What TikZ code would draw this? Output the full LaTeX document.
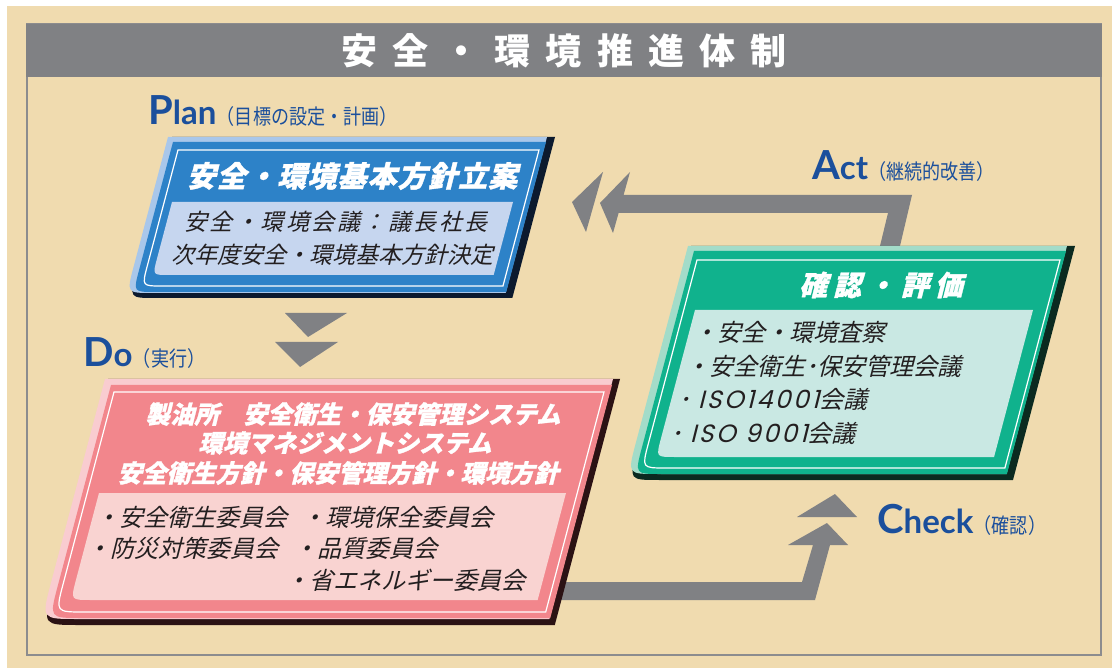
\documentclass[tikz,border=0pt]{standalone}
\usepackage{fontspec}
\setmainfont{Lato}
\newfontfamily\jpfont{Noto Sans CJK JP}
\newfontfamily\jpslant{Noto Sans CJK JP}[FakeSlant=0.25]
\newfontfamily\jpheavy{Noto Sans CJK JP}[FakeSlant=0.25, FakeBold=1.2]
\newfontfamily\isofont{Poppins}[FakeSlant=0.25, LetterSpace=10]
\usepackage{tikz}
\definecolor{parch}{HTML}{F0DBAF}
\definecolor{bargrey}{HTML}{808184}
\definecolor{framegrey}{HTML}{8C8C8E}
\definecolor{lblue}{HTML}{1B4F9C}
\definecolor{ink}{HTML}{231F20}
\definecolor{planblue}{HTML}{2D82C8}
\definecolor{planrim}{HTML}{A9C7EA}
\definecolor{planpanel}{HTML}{C6D6EF}
\definecolor{plandark}{HTML}{0C1A2E}
\definecolor{dopink}{HTML}{F2868C}
\definecolor{dorim}{HTML}{F9CCD0}
\definecolor{dopanel}{HTML}{F9D3D1}
\definecolor{dodark}{HTML}{2B1214}
\definecolor{chkgreen}{HTML}{10B28D}
\definecolor{chkrim}{HTML}{A3DCC9}
\definecolor{chkpanel}{HTML}{C9E8E3}
\definecolor{chkdark}{HTML}{0B2A20}
\tikzset{lbl/.style={text=lblue, inner sep=0pt, anchor=base west},
  headtxt/.style={text=white, inner sep=0pt, font=\fontsize{#1}{#1}\jpheavy\bfseries},
  bodytxt/.style={text=ink, inner sep=0pt, font=\fontsize{#1}{#1}\jpslant},
  whiteline/.style={draw=white, line width=1.2}}
\newcommand{\slopek}{0.265}
\newcommand{\panelpath}[5]{({#1},{#2}) -- ({#3},{#2}) -- ({#3-\slopek*(#4-#2)},{#4}) -- ({#1-\slopek*(#4-#2)+#5},{#4}) .. controls ({#1-\slopek*(#4-#2)},{#4}) .. ({#1-\slopek*(#4-#2-#5)},{#4-#5}) -- cycle}
\newcommand{\parenlbl}[1]{\scalebox{0.86}[1]{\fontsize{21}{21}\jpfont #1}}

\begin{document}
\begin{tikzpicture}[x=1pt,y=-1pt]
\useasboundingbox (0,0) rectangle (1112,668);
\fill[white] (0,0) rectangle (1112,668);
\fill[parch] (7,6) rectangle (1112,668);
% frame and title
\draw[framegrey, line width=2.5] (27,24) rectangle (1101,655);
\fill[bargrey] (26,24) rectangle (1102,77);
\node[text=white, inner sep=0pt] (title) at (564,51)
  {\fontsize{36}{36}\jpfont\bfseries\addfontfeatures{LetterSpace=42}安全・環境推進体制};

% arrows
\fill[bargrey] (285,313) -- (347,313) -- (308,337) -- cycle;
\fill[bargrey] (275,342) -- (338,342) -- (300,367) -- cycle;
\fill[bargrey] (880,246) -- (900,246) -- (912,195) -- (623.6,195) -- (630,172) -- (600,203) -- (613,233) -- (618.6,213) -- (888,213) -- cycle;
\fill[bargrey] (572,202) -- (603,172) -- (586,232) -- cycle;
\fill[bargrey] (560,582) -- (802,582) -- (813,545) -- (788,545) -- (827,523) -- (848,545) -- (830,545) -- (815,600) -- (560,600) -- cycle;
\fill[bargrey] (797,517) -- (835,494) -- (857,517) -- cycle;

% Plan box
\fill[plandark] \panelpath{172}{137}{555}{298}{26};
\fill[planrim] \panelpath{168}{137}{547}{293}{26};
\fill[planblue] \panelpath{173}{142}{546}{292}{22};
\draw[whiteline] \panelpath{178}{150}{539}{286}{20};
\fill[planpanel] \panelpath{172}{202}{513}{275}{16};
\node[headtxt=29] (planHead) at (352,176) {\addfontfeatures{LetterSpace=4}安全・環境基本方針立案};
\node[bodytxt=23] (planT1) at (336,222) {\addfontfeatures{LetterSpace=11}安全・環境会議：議長社長};
\node[bodytxt=23] (planT2) at (332,255) {次年度安全・環境基本方針決定};

% Do box
\fill[dodark] \panelpath{108}{379}{620}{625}{36};
\fill[dorim] \panelpath{105}{379}{613}{619}{36};
\fill[dopink] \panelpath{111}{385}{612}{618}{32};
\draw[whiteline] \panelpath{114}{392}{604}{612}{28};
\fill[dopanel] \panelpath{99}{493}{566}{600}{20};
\node[headtxt=24.5] (doH1) at (353,414) {製油所\hspace{24pt}安全衛生・保安管理システム};
\node[headtxt=24.5] (doH2) at (345,443) {環境マネジメントシステム};
\node[headtxt=24.5] (doH3) at (338,473) {安全衛生方針・保安管理方針・環境方針};
\node[bodytxt=24, anchor=west] (doI1) at (95,517) {・安全衛生委員会};
\node[bodytxt=24, anchor=west] (doI2) at (301,517) {・環境保全委員会};
\node[bodytxt=24, anchor=west] (doI3) at (86,548) {・防災対策委員会};
\node[bodytxt=24, anchor=west] (doI4) at (293,548) {・品質委員会};
\node[bodytxt=24, anchor=west] (doI5) at (285,580) {・省エネルギー委員会};

% Check box
\fill[chkdark] \panelpath{691}{246}{1075}{480}{30};
\fill[chkrim] \panelpath{688}{246}{1067}{474}{30};
\fill[chkgreen] \panelpath{694}{251}{1066}{474}{26};
\draw[whiteline] \panelpath{697}{260}{1060}{468}{24};
\fill[chkpanel] \panelpath{695}{310}{1033}{457}{18};
\node[headtxt=28] (chkHead) at (881,285) {\addfontfeatures{LetterSpace=21}確認・評価};
\node[bodytxt=24, anchor=west] (chkI1) at (693,332) {・安全・環境査察};
\node[bodytxt=24, anchor=west] (chkI2) at (685,366) {・安全衛生･保安管理会議};
\node[bodytxt=24, anchor=west] (chkI3) at (678,399) {･\hspace{8pt}{\fontsize{25}{25}\isofont ISO14001}会議};
\node[bodytxt=24, anchor=west] (chkI4) at (670,433) {･\hspace{8pt}{\fontsize{25}{25}\isofont ISO 9001}会議};

% labels
\node[lbl] (planL) at (148,125) {\fontsize{40}{40}\selectfont\bfseries P\fontsize{33}{33}\selectfont lan};
\node[lbl] (planP) at (planL.base east) {\parenlbl{（目標の設定・計画）}};
\node[lbl] (doL) at (83,367) {\fontsize{40}{40}\selectfont\bfseries D\fontsize{33}{33}\selectfont o};
\node[lbl] (doP) at (doL.base east) {\parenlbl{（実行）}};
\node[lbl] (actL) at (812,180) {\fontsize{40}{40}\selectfont\bfseries A\fontsize{33}{33}\selectfont ct};
\node[lbl] (actP) at (actL.base east) {\parenlbl{（継続的改善）}};
\node[lbl] (checkL) at (877,533) {\fontsize{40}{40}\selectfont\bfseries C\fontsize{33}{33}\selectfont heck};
\node[lbl] (checkP) at (checkL.base east) {\parenlbl{（確認）}};
\end{tikzpicture}
\end{document}
